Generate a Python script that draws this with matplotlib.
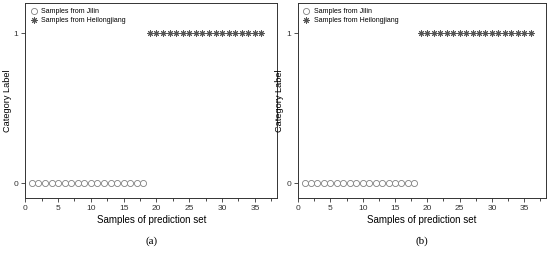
import matplotlib
matplotlib.use("Agg")
import matplotlib.pyplot as plt
from matplotlib.ticker import MultipleLocator

plt.rcParams['font.family'] = ['Liberation Sans', 'DejaVu Sans']

# data
jilin_x = list(range(1, 19))
jilin_y = [0] * 18
heilong_x = list(range(19, 37))
heilong_y = [1] * 18
x_ticks = [0, 5, 10, 15, 20, 25, 30, 35]
y_ticks = [0, 1]
panel_tags = ['(a)', '(b)']

fig = plt.figure(figsize=(5.5, 2.57), dpi=100)
rects = [[0.046, 0.229, 0.458, 0.759], [0.542, 0.229, 0.451, 0.759]]

for rect, tag in zip(rects, panel_tags):
    ax = fig.add_axes(rect)
    ax.plot(jilin_x, jilin_y, linestyle='none', marker='o', markersize=4.4,
            markerfacecolor='white', markeredgecolor='#808080', markeredgewidth=0.6,
            label='Samples from Jilin')
    ax.plot(heilong_x, heilong_y, linestyle='none', marker=(8, 2, 0), markersize=4.6,
            color='#555555', markeredgewidth=0.7, label='Samples from Heilongjiang')
    ax.set_xlim(0, 38.4)
    ax.set_ylim(-0.1, 1.2)
    ax.set_xticks(x_ticks)
    ax.set_yticks(y_ticks)
    ax.xaxis.set_minor_locator(MultipleLocator(2.5))
    ax.tick_params(axis='both', which='major', direction='out', length=3, width=0.6,
                   labelsize=6, pad=2, colors='#333333')
    ax.tick_params(axis='x', which='minor', direction='out', length=1.8, width=0.5)
    for s in ax.spines.values():
        s.set_linewidth(0.7)
        s.set_color('#333333')
    ax.set_xlabel('Samples of prediction set', fontsize=7, labelpad=2)
    ax.set_ylabel('Category Label', fontsize=6.6, labelpad=1.5)
    ax.legend(loc='upper left', frameon=False, fontsize=5, handletextpad=0.6,
              handlelength=1.0, borderaxespad=0.5, labelspacing=0.35,
              borderpad=0.2)
    ax.text(0.5, -0.22, tag, transform=ax.transAxes, ha='center', va='center',
            fontsize=8, family='Liberation Serif')

fig.savefig('out.png', dpi=100)
